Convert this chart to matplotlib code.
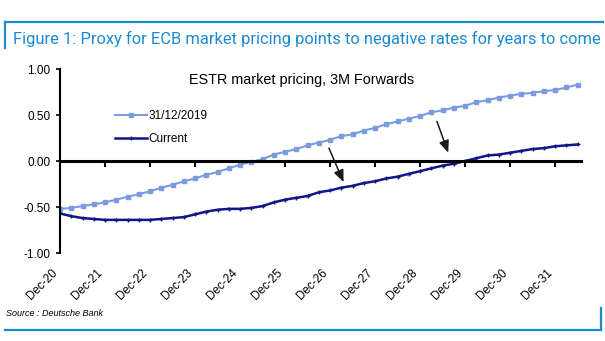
import matplotlib
matplotlib.use('Agg')
import matplotlib.pyplot as plt
from matplotlib.lines import Line2D
import numpy as np

plt.rcParams['font.family'] = ['Liberation Sans', 'DejaVu Sans']

# data: quarterly forward points, Dec-20 onwards
pricing_2019 = [-0.52, -0.51, -0.49, -0.47, -0.45, -0.42, -0.39, -0.36, -0.33, -0.29,
                -0.26, -0.22, -0.19, -0.15, -0.12, -0.08, -0.04, -0.01, 0.02, 0.07,
                0.10, 0.13, 0.17, 0.20, 0.23, 0.27, 0.29, 0.33, 0.36, 0.40,
                0.43, 0.46, 0.49, 0.53, 0.55, 0.58, 0.60, 0.64, 0.66, 0.69,
                0.71, 0.73, 0.74, 0.76, 0.77, 0.80, 0.83]
pricing_current = [-0.57, -0.60, -0.62, -0.63, -0.64, -0.64, -0.64, -0.64, -0.64, -0.63,
                   -0.62, -0.61, -0.58, -0.55, -0.53, -0.52, -0.52, -0.51, -0.49, -0.45,
                   -0.42, -0.40, -0.38, -0.34, -0.32, -0.29, -0.27, -0.24, -0.22, -0.19,
                   -0.17, -0.14, -0.11, -0.08, -0.05, -0.03, 0.00, 0.03, 0.06, 0.07,
                   0.09, 0.11, 0.13, 0.14, 0.16, 0.17, 0.18]
year_labels = ['Dec-20', 'Dec-21', 'Dec-22', 'Dec-23', 'Dec-24', 'Dec-25',
               'Dec-26', 'Dec-27', 'Dec-28', 'Dec-29', 'Dec-30', 'Dec-31']
y_ticks = [1.0, 0.5, 0.0, -0.5, -1.0]

quarters = np.arange(len(pricing_2019))
year_ticks = np.arange(len(year_labels)) * 4

light = '#7b9be0'
navy = '#141489'
blue = '#1a8ad6'

fig = plt.figure(figsize=(6.05, 3.41), dpi=100)
ax = fig.add_axes([60/605, 1 - 253/341, 521/605, 184/341])

ax.plot(quarters, pricing_2019, color=light, lw=1.5, marker='s', ms=3.2,
        label='31/12/2019')
ax.plot(quarters, pricing_current, color=navy, lw=1.8, marker='+', ms=3.5, mew=1.0,
        label='Current')

ax.set_xlim(0, 46.3)
ax.set_ylim(-1.0, 1.0)

# y axis
ax.set_yticks(y_ticks)
ax.set_yticklabels([f'{v:.2f}' for v in y_ticks])
ax.tick_params(axis='y', direction='out', length=3, width=1.2, labelsize=8.5, pad=4)
for s in ['top', 'right']:
    ax.spines[s].set_visible(False)
ax.spines['left'].set_linewidth(1.5)

# x axis line at zero, labels at the bottom
ax.spines['bottom'].set_position(('data', 0))
ax.spines['bottom'].set_linewidth(2.2)
ax.set_xticks(year_ticks)
ax.tick_params(axis='x', direction='out', length=4, width=1.5, labelbottom=False)

sec = ax.secondary_xaxis('bottom')
sec.spines['bottom'].set_visible(False)
sec.set_xticks(year_ticks)
sec.set_xticklabels(year_labels, rotation=45, ha='right', rotation_mode='default')
sec.tick_params(axis='x', length=0, labelsize=8.5, pad=10)

ax.text(0.464, 0.94, 'ESTR market pricing, 3M Forwards', transform=ax.transAxes,
        ha='center', va='center', fontsize=10.4)

ax.legend(loc='upper left', bbox_to_anchor=(0.094, 0.81), frameon=False,
          fontsize=8.5, handlelength=2.7, handletextpad=0.15, labelspacing=0.95,
          borderpad=0)

# arrows showing the shift in pricing
arrows = [((23.9, 0.14), (25.2, -0.23)), ((33.5, 0.43), (34.5, 0.09))]
for start, end in arrows:
    ax.annotate('', xy=end, xytext=start,
                arrowprops=dict(arrowstyle='-|>,head_length=0.6,head_width=0.25',
                                color='#1a1a1a', lw=1.1,
                                mutation_scale=12, shrinkA=0, shrinkB=0))

# header / footer
fig.text(13/605, 1 - 39/341,
         'Figure 1: Proxy for ECB market pricing points to negative rates for years to come',
         color=blue, fontsize=11.85, family='Roboto', ha='left', va='center')
fig.text(6/605, 1 - 314/341, 'Source : Deutsche Bank', fontsize=6.5, style='italic',
         ha='left', va='center')

frame = dict(color=blue, lw=1.6, transform=fig.transFigure)
fig.add_artist(Line2D([5/605, 603/605], [1 - 22/341, 1 - 22/341], **frame))
fig.add_artist(Line2D([5/605, 5/605], [1 - 22/341, 1 - 48/341], **frame))
fig.add_artist(Line2D([5/605, 601/605], [1 - 330/341, 1 - 330/341], **frame))
fig.add_artist(Line2D([601/605, 601/605], [1 - 308/341, 1 - 330/341], **frame))

plt.savefig('out.png', dpi=100)
